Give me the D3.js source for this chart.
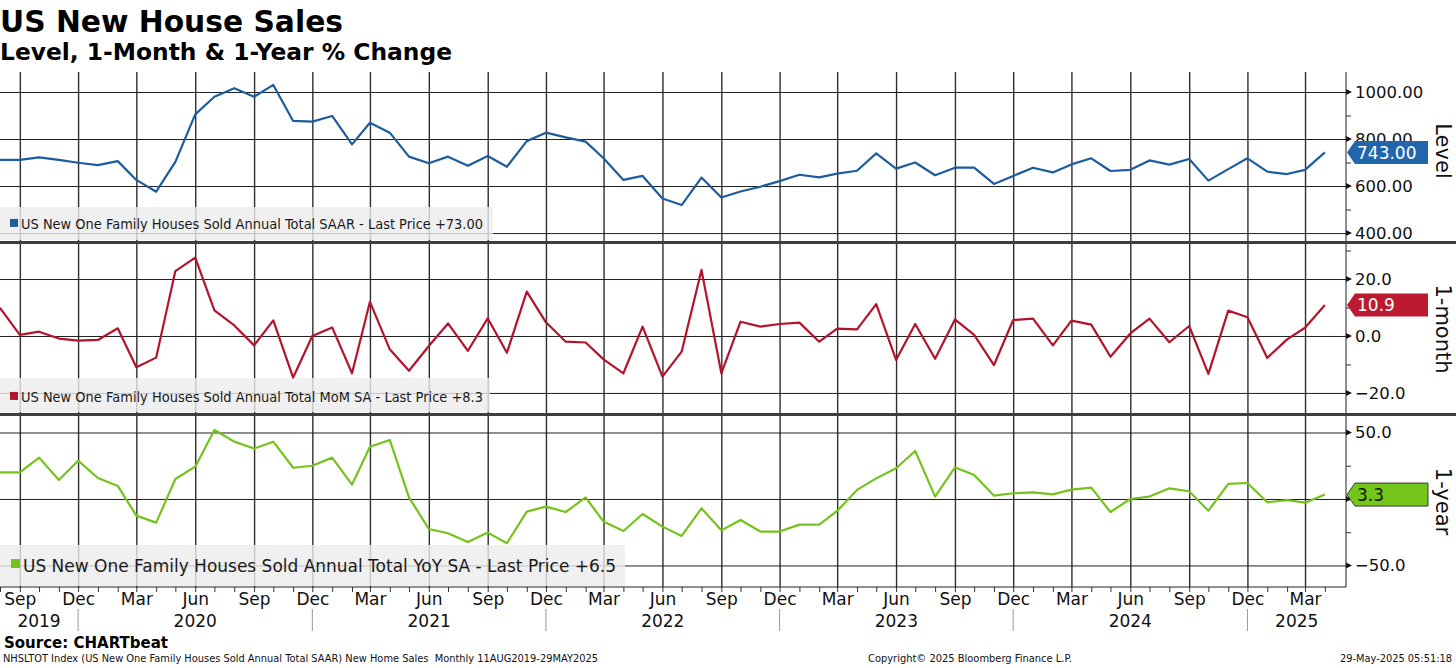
<!DOCTYPE html>
<html>
<head>
<meta charset="utf-8">
<script src="https://cdn.jsdelivr.net/npm/d3@7"></script>
<style>
    body { margin: 0; background: #fff; }
    svg { display: block; font-family: "DejaVu Sans", Verdana, sans-serif; }
</style>
</head>
<body>
<div id="chart"></div>
<script>
const width = 1456
const height = 668
const axisX = 1346

// Monthly observations, Aug 2019 .. Apr 2025
const firstMonth = [2019, 7]
const levelValues = [711, 711, 722, 711, 699, 689, 706, 626, 576, 703, 905, 980, 1016, 980, 1030, 877, 874, 898, 777, 869,
    827, 725, 697, 725, 686, 728, 682, 791, 827, 807, 789, 718, 626, 643, 547, 519, 636, 551, 577, 597,
    621, 648, 637, 653, 665, 739, 674, 700, 646, 678, 678, 609, 643, 678, 658, 692, 718, 664, 669, 709,
    691, 715, 623, 672, 718, 661, 651, 669, 743]
const momValues = [9.9, 0.4, 1.5, -0.9, -1.6, -1.4, 2.7, -11.0, -7.6, 22.8, 27.5, 9.0, 3.7, -3.3, 5.5, -14.6, 0.0, 3.0, -13.1, 12.0,
    -4.7, -12.2, -3.5, 4.4, -5.2, 6.2, -5.9, 15.6, 4.8, -2.0, -2.3, -8.2, -13.1, 3.3, -14.3, -5.5, 23.2, -13.1, 5.0, 3.3,
    4.2, 4.7, -2.0, 2.6, 2.3, 11.2, -8.4, 4.2, -8.0, 5.8, 0.4, -10.2, 5.6, 6.1, -3.3, 5.4, 4.0, -7.3, 0.9, 6.1,
    -2.2, 3.5, -13.3, 8.9, 6.6, -7.7, -1.2, 2.9, 10.9]
const yoyValues = [20.0, 20.0, 31.1, 14.3, 28.8, 15.8, 9.8, -12.5, -17.8, 15.0, 24.3, 51.9, 43.1, 37.9, 43.1, 23.5, 25.0, 31.1, 10.8, 39.3,
    44.4, 1.2, -22.6, -25.8, -32.3, -25.3, -33.3, -9.5, -5.8, -9.8, 1.2, -17.0, -24.1, -11.3, -20.8, -27.8, -7.0, -23.6, -15.8, -24.5,
    -24.5, -19.3, -19.3, -9.0, 6.8, 15.5, 23.1, 36.1, 1.8, 23.8, 18.0, 2.5, 4.3, 5.0, 3.5, 7.0, 8.5, -9.8, 0.0, 1.8,
    8.0, 5.8, -8.8, 11.3, 12.0, -2.5, -0.8, -2.8, 3.3]

const levelTicks = [400, 600, 800, 1000]
const levelMinor = [500, 700, 900]
const momTicks = [-20, 0, 20]
const momMinor = [-10, 10, 30]
const yoyTicks = [-50, 0, 50]
const yoyMinor = [-25, 25]

const panelTitles = ["Level", "1-month", "1-year"]
const legendTexts = [
    "US New One Family Houses Sold Annual Total SAAR - Last Price +73.00",
    "US New One Family Houses Sold Annual Total MoM SA - Last Price +8.3",
    "US New One Family Houses Sold Annual Total YoY SA - Last Price +6.5"
]

const dates = levelValues.map((d, i) => new Date(firstMonth[0], firstMonth[1] + i, 1))

const x = d3.scaleTime()
    .domain([new Date(2019, 7, 1), new Date(2025, 4, 4)])
    .range([0, axisX])

const panels = [
    {
        title: panelTitles[0], values: levelValues, ticks: levelTicks, minor: levelMinor,
        domain: [362, 1085], top: 72, bottom: 242, fmt: d3.format(".2f"),
        color: "#1d5c9e", badge: "#2166ad", badgeText: "#fff", badgeStroke: "none",
        legend: legendTexts[0], box: [207, 240, 493], font: 14, textW: 462, textY: 229, sq: 8
    },
    {
        title: panelTitles[1], values: momValues, ticks: momTicks, minor: momMinor,
        domain: [-27.4, 32.3], top: 244, bottom: 414, fmt: d3.format(".1f"),
        color: "#b3132b", badge: "#bb1a30", badgeText: "#fff", badgeStroke: "none",
        legend: legendTexts[1], box: [378, 412, 490], font: 14, textW: 462, textY: 402, sq: 8
    },
    {
        title: panelTitles[2], values: yoyValues, ticks: yoyTicks, minor: yoyMinor,
        domain: [-66.2, 62.4], top: 416, bottom: 587, fmt: d3.format(".1f"),
        color: "#74c31c", badge: "#74c71a", badgeText: "#111", badgeStroke: "#3a3a3a",
        legend: legendTexts[2], box: [545, 586, 625], font: 18, textW: 593, textY: 572, sq: 9
    }
]

const svg = d3.select("#chart")
    .append("svg")
    .attr("width", width)
    .attr("height", height)

// Quarter gridlines + month labels
const quarters = dates.filter(d => d.getMonth() % 3 === 2)
const gridTop = 72
const plotBottom = 587

svg.append("g")
    .attr("class", "xAxis")
    .attr("transform", `translate(0, ${plotBottom})`)
    .call(d3.axisBottom(x)
        .tickValues(quarters)
        .tickSize(-(plotBottom - gridTop))
        .tickPadding(6)
        .tickFormat(d3.timeFormat("%b")))
    .call(g => g.select(".domain").remove())
    .call(g => g.selectAll(".tick line").attr("stroke", "#2e2e2e").attr("stroke-width", 1.4))
    .call(g => g.selectAll(".tick text")
        .attr("font-size", 17)
        .attr("fill", "#111")
        .attr("font-family", "DejaVu Sans"))

// month minor ticks
svg.append("g")
    .attr("transform", `translate(0, ${plotBottom})`)
    .call(d3.axisBottom(x).tickValues(dates).tickSize(5).tickFormat(""))
    .call(g => g.select(".domain").remove())
    .call(g => g.selectAll(".tick line").attr("stroke", "#333"))

svg.append("line")
    .attr("x1", 0).attr("x2", axisX)
    .attr("y1", plotBottom).attr("y2", plotBottom)
    .attr("stroke", "#222")

// Year labels and dividers
const decembers = dates.filter(d => d.getMonth() === 11)
const years = d3.range(2019, 2026)
svg.selectAll("line.yearDiv")
    .data(decembers)
    .join("line")
    .attr("class", "yearDiv")
    .attr("x1", d => x(d)).attr("x2", d => x(d))
    .attr("y1", 609).attr("y2", 631)
    .attr("stroke", "#999")

svg.selectAll("text.year")
    .data(years)
    .join("text")
    .attr("class", "year")
    .attr("x", yr => {
        const left = yr === 2019 ? 0 : x(new Date(yr - 1, 11, 1))
        const right = yr === 2025 ? axisX : x(new Date(yr, 11, 1))
        return (left + right) / 2
    })
    .attr("y", 627)
    .attr("text-anchor", "middle")
    .attr("font-size", 17)
    .attr("fill", "#111")
    .text(yr => yr)

panels.forEach((p, k) => {
    const y = d3.scaleLinear().domain(p.domain).range([p.bottom, p.top])
    const g = svg.append("g").attr("class", "panel" + k)
    const last = p.values[p.values.length - 1]
    const cy = y(last)

    // horizontal gridlines with labels on the right
    g.append("g")
        .attr("transform", `translate(${axisX}, 0)`)
        .call(d3.axisRight(y)
            .tickValues(p.ticks)
            .tickSize(-axisX)
            .tickPadding(9)
            .tickFormat(p.fmt))
        .call(a => a.select(".domain").remove())
        .call(a => a.selectAll(".tick line").attr("stroke", "#1e1e1e").attr("stroke-width", 1))
        .call(a => a.selectAll(".tick text")
            .attr("font-size", 16.5)
            .attr("fill", "#111")
            .attr("font-family", "DejaVu Sans"))
        // label fully hidden behind the last-value badge
        .call(a => a.selectAll(".tick text").filter(d => Math.abs(y(d) - cy) < 8).remove())

    // arrow heads on the major ticks
    g.selectAll("path.arrow")
        .data(p.ticks)
        .join("path")
        .attr("class", "arrow")
        .attr("d", d => `M${axisX},${y(d) - 3}L${axisX + 6},${y(d)}L${axisX},${y(d) + 3}Z`)
        .attr("fill", "#111")

    g.append("g")
        .attr("transform", `translate(${axisX}, 0)`)
        .call(d3.axisRight(y).tickValues(p.minor).tickSize(5).tickFormat(""))
        .call(a => a.select(".domain").remove())
        .call(a => a.selectAll(".tick line").attr("stroke", "#333"))

    // legend box
    g.append("rect")
        .attr("x", 0).attr("y", p.box[0])
        .attr("width", p.box[2]).attr("height", p.box[1] - p.box[0])
        .attr("fill", "#ececec")
        .attr("fill-opacity", 0.8)

    g.append("rect")
        .attr("x", p.sq === 9 ? 11 : 10)
        .attr("y", p.textY - p.font * 0.72)
        .attr("width", p.sq).attr("height", p.sq)
        .attr("fill", p.color)

    g.append("text")
        .attr("x", p.font === 18 ? 23 : 21)
        .attr("y", p.textY)
        .attr("font-size", p.font)
        .attr("fill", "#1a1a1a")
        .attr("textLength", p.textW)
        .attr("lengthAdjust", "spacingAndGlyphs")
        .text(p.legend)

    // series line
    const line = d3.line()
        .x((d, i) => x(dates[i]))
        .y(d => y(d))

    g.append("path")
        .datum(p.values)
        .attr("fill", "none")
        .attr("stroke", p.color)
        .attr("stroke-width", 2.2)
        .attr("stroke-linejoin", "round")
        .attr("d", line)

    // last value badge
    g.append("path")
        .attr("d", `M${axisX + 1},${cy}L${axisX + 9},${cy - 11.5}L1428,${cy - 11.5}L1428,${cy + 11.5}L${axisX + 9},${cy + 11.5}Z`)
        .attr("fill", p.badge)
        .attr("stroke", p.badgeStroke)

    g.append("text")
        .attr("x", axisX + 11)
        .attr("y", cy)
        .attr("dy", "0.36em")
        .attr("font-size", 17)
        .attr("fill", p.badgeText)
        .text(p.fmt(last))

    // panel title, rotated
    g.append("text")
        .attr("transform", `translate(1443, ${(p.top + p.bottom) / 2 + (k === 0 ? -6 : 0)}) rotate(90)`)
        .attr("text-anchor", "middle")
        .attr("dy", "0.35em")
        .attr("font-size", 21)
        .attr("fill", "#111")
        .text(p.title)
})

// right axis line
svg.append("line")
    .attr("x1", axisX).attr("x2", axisX)
    .attr("y1", gridTop).attr("y2", plotBottom)
    .attr("stroke", "#222")

// panel separators
svg.selectAll("rect.sep")
    .data([241, 413])
    .join("rect")
    .attr("class", "sep")
    .attr("x", 0).attr("y", d => d)
    .attr("width", width).attr("height", 3)
    .attr("fill", "#3e3e3e")

// titles
svg.append("text")
    .attr("x", 0).attr("y", 32)
    .attr("font-size", 30).attr("font-weight", "bold")
    .attr("textLength", 343).attr("lengthAdjust", "spacingAndGlyphs")
    .text("US New House Sales")

svg.append("text")
    .attr("x", 0).attr("y", 60)
    .attr("font-size", 23).attr("font-weight", "bold")
    .attr("textLength", 452).attr("lengthAdjust", "spacingAndGlyphs")
    .text("Level, 1-Month & 1-Year % Change")

svg.append("text")
    .attr("x", 4).attr("y", 648)
    .attr("font-size", 16).attr("font-weight", "bold")
    .attr("textLength", 164).attr("lengthAdjust", "spacingAndGlyphs")
    .text("Source: CHARTbeat")

const footer = [
    { t: "NHSLTOT Index (US New One Family Houses Sold Annual Total SAAR) New Home Sales  Monthly 11AUG2019-29MAY2025", x: 3, w: 595, anchor: "start" },
    { t: "Copyright\u00A9 2025 Bloomberg Finance L.P.", x: 868, w: 204, anchor: "start" },
    { t: "29-May-2025 05:51:18", x: 1452, w: 112, anchor: "end" }
]
svg.selectAll("text.foot")
    .data(footer)
    .join("text")
    .attr("class", "foot")
    .attr("x", d => d.x).attr("y", 662)
    .attr("text-anchor", d => d.anchor)
    .attr("font-size", 11)
    .attr("fill", "#111")
    .attr("xml:space", "preserve")
    .attr("textLength", d => d.w).attr("lengthAdjust", "spacingAndGlyphs")
    .text(d => d.t)
</script>
</body>
</html>
